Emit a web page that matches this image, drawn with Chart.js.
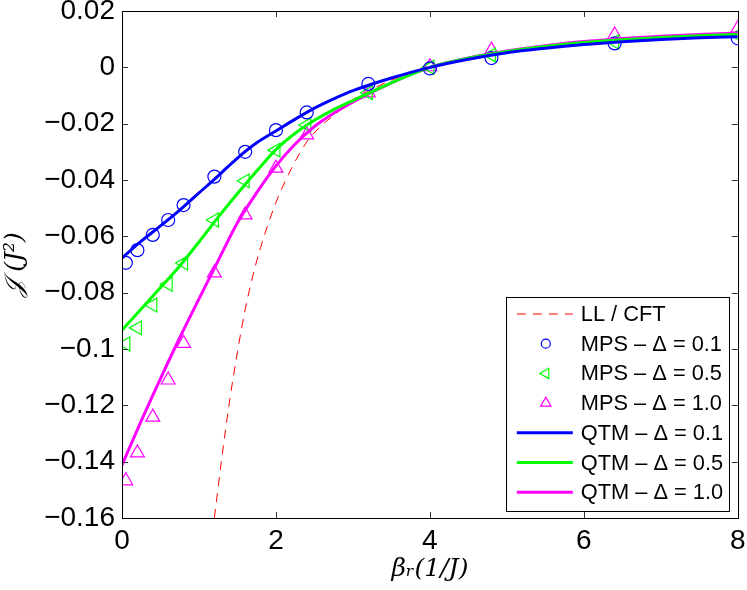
<!DOCTYPE html>
<html>
<head>
<meta charset="utf-8">
<script src="https://cdn.jsdelivr.net/npm/chart.js@4.4.1/dist/chart.umd.min.js"></script>
<style>
  html, body { margin: 0; padding: 0; background: #fff; }
  #wrap { width: 747px; height: 590px; }
</style>
</head>
<body>
<div id="wrap"><canvas id="fluxChart" width="747" height="590"></canvas></div>
<script>
// MPS data points
var mpsX = [0.05, 0.2, 0.4, 0.6, 0.8, 1.2, 1.6, 2.0, 2.4, 3.2, 4.0, 4.8, 6.4, 8.0];
var mps01 = [-0.0694, -0.0649, -0.0595, -0.0542, -0.0489, -0.0388, -0.0300, -0.0223, -0.0160, -0.0059, -0.0004, 0.0033, 0.0085, 0.0103];
var mps05 = [-0.0982, -0.0925, -0.0844, -0.0770, -0.0695, -0.0542, -0.0403, -0.0294, -0.0205, -0.0090, 0.0000, 0.0044, 0.0090, 0.0115];
var mps10 = [-0.1468, -0.1369, -0.1242, -0.1110, -0.0980, -0.0730, -0.0524, -0.0358, -0.0240, -0.0091, 0.0002, 0.0061, 0.0115, 0.0138];

// QTM curves
var qtmX = [0, 0.25, 0.5, 0.75, 1.0, 1.25, 1.5, 1.75, 2.0, 2.25, 2.5, 2.75, 3.0, 3.5, 4.0, 4.5, 5.0, 5.5, 6.0, 6.5, 7.0, 7.5, 8.0];
var qtm01 = [-0.0677, -0.0617, -0.0563, -0.0507, -0.0446, -0.0385, -0.0322, -0.0268, -0.0226, -0.0184, -0.0145, -0.0112, -0.0083, -0.0038, 0.0, 0.0029, 0.0052, 0.0068, 0.0081, 0.0091, 0.0099, 0.0105, 0.0109];
var qtm05 = [-0.0933, -0.0858, -0.0782, -0.0705, -0.0620, -0.0532, -0.0448, -0.0368, -0.0292, -0.0234, -0.0188, -0.0150, -0.0118, -0.0055, 0.0, 0.0032, 0.0056, 0.0074, 0.0088, 0.0098, 0.0106, 0.0112, 0.0117];
var qtm10 = [-0.1412, -0.1255, -0.1105, -0.0960, -0.0822, -0.0686, -0.0552, -0.0445, -0.0350, -0.0272, -0.0210, -0.0163, -0.0123, -0.0055, 0.0, 0.0033, 0.0058, 0.0077, 0.0092, 0.0102, 0.0110, 0.0117, 0.0122];

// LL / CFT curve
var cftX = [1.2, 1.3, 1.4, 1.5, 1.6, 1.7, 1.8, 2.0, 2.2, 2.4, 2.6, 2.8, 3.0, 3.2, 3.5, 4.0, 4.5, 5.0, 5.5, 6.0, 6.5, 7.0, 7.5, 8.0];
var cftY = [-0.160, -0.138, -0.118, -0.101, -0.086, -0.074, -0.064, -0.048, -0.036, -0.0265, -0.0205, -0.0160, -0.0115, -0.0085, -0.0045, 0.0, 0.0034, 0.0056, 0.0074, 0.0087, 0.0097, 0.0105, 0.0112, 0.0118];

var xTicks = [0, 2, 4, 6, 8];
var yTicks = [-0.16, -0.14, -0.12, -0.1, -0.08, -0.06, -0.04, -0.02, 0, 0.02];

var legendLabels = ['LL / CFT', 'MPS \u2013 \u0394 = 0.1', 'MPS \u2013 \u0394 = 0.5', 'MPS \u2013 \u0394 = 1.0',
  'QTM \u2013 \u0394 = 0.1', 'QTM \u2013 \u0394 = 0.5', 'QTM \u2013 \u0394 = 1.0'];

function pts(xs, ys) {
  return xs.map(function (x, i) { return { x: x, y: ys[i] }; });
}

var BLUE = '#0000ff', GREEN = '#00ff00', MAG = '#ff00ff', RED = '#ff0000';

function markerSet(label, data, color, style, rot, r) {
  return {
    label: label, data: data, showLine: false,
    pointStyle: style, rotation: rot, pointRadius: r,
    borderColor: color, backgroundColor: 'rgba(0,0,0,0)', pointBorderWidth: 1.2, order: 2
  };
}
function lineSet(label, data, color) {
  return {
    label: label, data: data, showLine: true, borderColor: color, borderWidth: 3,
    pointRadius: 0, cubicInterpolationMode: 'monotone', order: 1
  };
}

var datasets = [
  { label: legendLabels[0], data: pts(cftX, cftY), showLine: true, borderColor: RED, borderWidth: 1, borderDash: [9, 7],
    pointRadius: 0, cubicInterpolationMode: 'monotone', order: 3 },
  markerSet(legendLabels[1], pts(mpsX, mps01), BLUE, 'circle', 0, 6.5),
  markerSet(legendLabels[2], pts(mpsX, mps05), GREEN, 'triangle', -90, 8),
  markerSet(legendLabels[3], pts(mpsX, mps10), MAG, 'triangle', 0, 8),
  lineSet(legendLabels[4], pts(qtmX, qtm01), BLUE),
  lineSet(legendLabels[5], pts(qtmX, qtm05), GREEN),
  lineSet(legendLabels[6], pts(qtmX, qtm10), MAG)
];

// box + inward ticks on all four sides
var framePlugin = {
  id: 'frame',
  afterDraw: function (chart) {
    var c = chart.ctx, a = chart.chartArea;
    var xs = chart.scales.x, ys = chart.scales.y;
    c.save();
    c.strokeStyle = '#333';
    c.lineWidth = 1;
    c.beginPath();
    xTicks.forEach(function (v) {
      var px = Math.round(xs.getPixelForValue(v)) + 0.5;
      c.moveTo(px, a.bottom); c.lineTo(px, a.bottom - 6);
      c.moveTo(px, a.top); c.lineTo(px, a.top + 6);
    });
    yTicks.forEach(function (v) {
      var py = Math.round(ys.getPixelForValue(v)) + 0.5;
      c.moveTo(a.left, py); c.lineTo(a.left + 6, py);
      c.moveTo(a.right, py); c.lineTo(a.right - 6, py);
    });
    c.stroke();
    c.strokeStyle = '#000';
    c.strokeRect(Math.round(a.left) + 0.5, Math.round(a.top) + 0.5, Math.round(a.width), Math.round(a.height));
    c.restore();
  }
};

// legend box inside the plot, bottom right
var legendPlugin = {
  id: 'boxLegend',
  afterDraw: function (chart) {
    var c = chart.ctx, a = chart.chartArea;
    var w = 223, h = 214;
    var left = a.right - 9 - w, top = a.bottom - 7 - h;
    c.save();
    c.fillStyle = '#fff';
    c.fillRect(left, top, w, h);
    c.strokeStyle = '#000';
    c.lineWidth = 1;
    c.strokeRect(Math.round(left) + 0.5, Math.round(top) + 0.5, w, h);
    c.font = '21.8px "Liberation Sans", Arial, sans-serif';
    c.textBaseline = 'middle';
    chart.data.datasets.forEach(function (ds, i) {
      var y = top + 17 + i * 29.7;
      if (ds.showLine === false) {
        c.save();
        c.fillStyle = 'rgba(0,0,0,0)';
        c.strokeStyle = ds.borderColor;
        c.lineWidth = 1.2;
        Chart.helpers.drawPoint(c, {
          pointStyle: ds.pointStyle, rotation: ds.rotation,
          radius: ds.pointStyle === 'circle' ? 4.5 : 6, borderWidth: 1.2
        }, left + 40, y);
        c.restore();
      } else {
        c.save();
        c.strokeStyle = ds.borderColor;
        c.lineWidth = ds.borderWidth;
        c.setLineDash(ds.borderDash || []);
        c.beginPath();
        c.moveTo(left + 11, y);
        c.lineTo(left + 67, y);
        c.stroke();
        c.restore();
      }
      c.fillStyle = '#000';
      c.fillText(ds.label, left + 75, y + 1);
    });
    c.restore();
  }
};

var fluxChart = new Chart(document.getElementById('fluxChart'), {
  type: 'scatter',
  data: { datasets: datasets },
  options: {
    responsive: false,
    animation: false,
    layout: { padding: { top: 11, right: 8, left: 0, bottom: 0 } },
    plugins: { legend: { display: false }, tooltip: { enabled: false } },
    scales: {
      x: {
        type: 'linear', min: 0, max: 8,
        grid: { display: false, drawTicks: false }, border: { display: false },
        afterBuildTicks: function (s) { s.ticks = xTicks.map(function (v) { return { value: v }; }); },
        afterFit: function (s) { s.height = 72; s.paddingLeft = 0; s.paddingRight = 0; },
        ticks: { color: '#000', padding: 6, maxRotation: 0, font: { family: '"Liberation Sans", Arial, sans-serif', size: 28 } },
        title: { display: true, text: '\u03b2\u1d63(1/J)', color: '#000', padding: { top: 0, bottom: 6 },
          font: { family: '"DejaVu Serif", serif', style: 'italic', size: 25 } }
      },
      y: {
        type: 'linear', min: -0.16, max: 0.02,
        grid: { display: false, drawTicks: false }, border: { display: false },
        afterBuildTicks: function (s) { s.ticks = yTicks.map(function (v) { return { value: v }; }); },
        afterFit: function (s) { s.width = 122; s.paddingTop = 0; s.paddingBottom = 0; },
        ticks: {
          color: '#000', padding: 7,
          font: { family: '"Liberation Sans", Arial, sans-serif', size: 28 },
          callback: function (v) {
            if (Math.abs(v) < 1e-9) return '0';
            return String(Number(v.toFixed(2))).replace('-', '\u2212');
          }
        },
        title: { display: true, text: '\ud835\udca5 (J\u00b2)', color: '#000', padding: { top: 0, bottom: 4 },
          font: { family: '"DejaVu Serif", serif', style: 'italic', size: 25 } }
      }
    }
  },
  plugins: [framePlugin, legendPlugin]
});
</script>
</body>
</html>
